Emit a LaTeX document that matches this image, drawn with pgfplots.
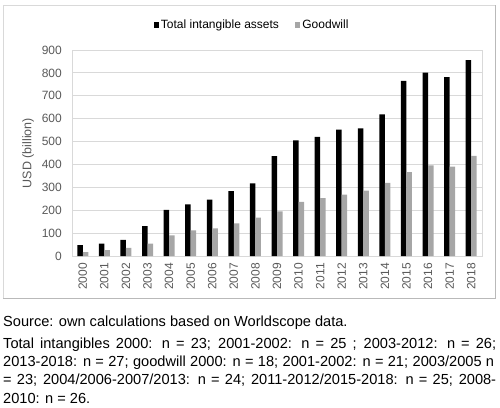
\documentclass[border=0pt]{standalone}
\usepackage{pgfplots}
\pgfplotsset{compat=1.18}
\usepackage{fontspec}
\setmainfont{Liberation Sans}
\definecolor{tickgray}{RGB}{89,89,89}
\definecolor{gridgray}{RGB}{217,217,217}
\definecolor{barblack}{RGB}{0,0,0}
\definecolor{bargray}{RGB}{166,166,166}
\definecolor{framegray}{RGB}{217,217,217}
\begin{document}
\begin{tikzpicture}
\path[use as bounding box] (0,0) rectangle (500bp,-408bp);
\draw[framegray, line width=0.9bp] (3bp,-5bp) rectangle (495bp,-298bp);
\draw[gray!55, line width=1.2bp] (495.5bp,-5bp) -- (495.5bp,-298.5bp) -- (3bp,-298.5bp);
\begin{axis}[
  at={(72bp,-256bp)}, anchor=south west,
  scale only axis, width=410bp, height=206bp,
  xmin=-0.5, xmax=18.5, ymin=0, ymax=900,
  ybar=0pt, bar width=5.5bp,
  xtick={0,...,18},
  xticklabels={2000,2001,2002,2003,2004,2005,2006,2007,2008,2009,2010,2011,2012,2013,2014,2015,2016,2017,2018},
  ytick={0,100,...,900},
  major tick length=0pt,
  ymajorgrids, grid style={draw=gridgray, line width=0.8bp},
  axis line style={draw=gridgray, line width=0.8bp},
  tick label style={font=\fontsize{12bp}{14bp}\selectfont, text=tickgray},
  /pgf/number format/assume math mode=true,
  yticklabel style={anchor=east, inner sep=0pt, xshift=-10bp},
  xticklabel style={yshift=-7bp, rotate=90, anchor=east, inner sep=0pt},
  ylabel={USD (billion)},
  ylabel style={font=\fontsize{12.5bp}{14bp}\selectfont, text=tickgray, at={(axis description cs:-0.107,0.5)}, anchor=center, rotate=0},
  legend columns=2,
  legend style={draw=none, fill=none, at={(axis description cs:0.439,1.121)}, anchor=center,
    font=\fontsize{12bp}{14bp}\selectfont, text=black,
    /tikz/every even column/.append style={column sep=14bp}},
  legend image code/.code={\fill[#1] (0bp,-2.7bp) rectangle (5.4bp,2.7bp);},
]
\addplot[fill=barblack, draw=none] coordinates {
(0,48) (1,54) (2,70) (3,131) (4,201) (5,226) (6,246) (7,284) (8,317) (9,436)
(10,505) (11,521) (12,552) (13,558) (14,619) (15,765) (16,801) (17,782) (18,856)};
\addlegendentry{Total intangible assets}
\addplot[fill=bargray, draw=none] coordinates {
(0,17) (1,26) (2,36) (3,54) (4,90) (5,112) (6,121) (7,143) (8,168) (9,195)
(10,237) (11,253) (12,268) (13,286) (14,319) (15,366) (16,396) (17,390) (18,438)};
\addlegendentry{Goodwill}
\end{axis}
\begin{scope}[every node/.style={inner sep=0pt, anchor=base west, font=\fontsize{14.6bp}{18bp}\selectfont}]
\node at (3bp,-326bp) {Source: own calculations based on Worldscope data.};
\node at (3bp,-348.2bp) {\makebox[493bp][s]{Total intangibles 2000: n = 23; 2001-2002: n = 25 ; 2003-2012: n = 26;}};
\node at (3bp,-366.5bp) {\makebox[491bp][s]{2013-2018: n = 27; goodwill 2000: n = 18; 2001-2002: n = 21; 2003/2005 n}};
\node at (3bp,-384.8bp) {\makebox[493bp][s]{= 23; 2004/2006-2007/2013: n = 24; 2011-2012/2015-2018: n = 25; 2008-}};
\node at (3bp,-403bp) {2010: n = 26.};
\end{scope}
\end{tikzpicture}
\end{document}
